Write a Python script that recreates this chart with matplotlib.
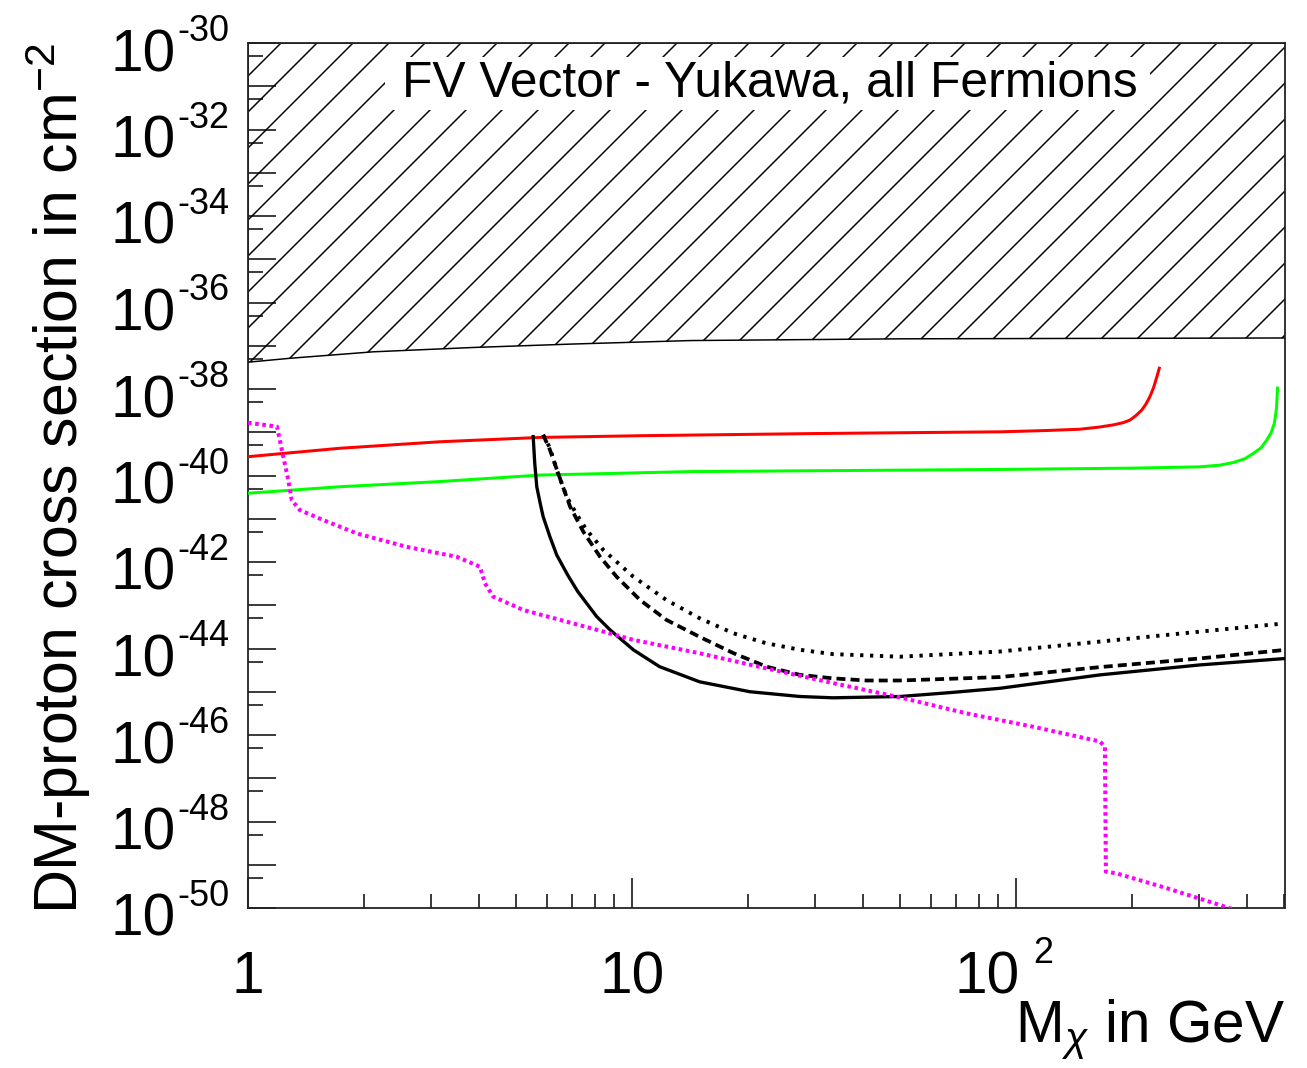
import numpy as np
import matplotlib
matplotlib.use("Agg")
import matplotlib.pyplot as plt
from matplotlib.patches import Rectangle
from matplotlib.transforms import blended_transform_factory, offset_copy

plt.rcParams['font.family'] = ['Liberation Sans', 'DejaVu Sans']
plt.rcParams['mathtext.fontset'] = 'custom'
plt.rcParams['mathtext.rm'] = 'Liberation Sans'
plt.rcParams['mathtext.it'] = 'Liberation Sans:italic'
plt.rcParams['hatch.linewidth'] = 0.5
plt.rcParams['lines.scale_dashes'] = False

DPI = 216  # 1 pt = 3 px

# ---- data (mass in GeV, log10 of cross section in cm^2) ----
excl_m = [1.0, 1.285, 2.12, 3.86, 7.03, 14.2, 49.9, 510]
excl_logs = [-37.38, -37.29, -37.14, -37.04, -36.96, -36.88, -36.84, -36.82]

red_m = [1.0, 1.736, 3.16, 5.76, 10.5, 30, 90.9, 120, 146.8, 165, 179.2, 190, 198, 205,
         212.5, 218, 223.2, 228, 231.5, 234, 236.2]
red_logs = [-39.565, -39.37, -39.22, -39.12, -39.08, -39.03, -38.99, -38.96, -38.93,
            -38.88, -38.83, -38.78, -38.72, -38.62, -38.49, -38.35, -38.18, -37.98,
            -37.79, -37.65, -37.52]

green_m = [1.0, 1.736, 3.16, 5.76, 14.2, 90.9, 200, 301, 340, 368, 395, 415, 435, 450,
           462, 471, 477, 480]
green_logs = [-40.41, -40.26, -40.14, -39.99, -39.91, -39.86, -39.83, -39.80, -39.76,
              -39.70, -39.61, -39.49, -39.36, -39.18, -39.01, -38.79, -38.45, -37.98]

solid_m = [5.53, 5.58, 5.65, 5.76, 5.87, 6.11, 6.37, 6.80, 7.22, 8.09, 8.77, 10.08,
           11.8, 15.0, 20.3, 27.4, 33.4, 49.9, 67.3, 90.9, 165.5, 301, 505]
solid_logs = [-39.10, -39.70, -40.26, -40.62, -40.95, -41.41, -41.84, -42.30, -42.68,
              -43.26, -43.57, -44.03, -44.42, -44.77, -45.00, -45.11, -45.14, -45.11,
              -45.02, -44.92, -44.61, -44.38, -44.23]

dashed_m = [5.87, 6.11, 6.56, 6.90, 7.47, 8.26, 9.12, 10.5, 12.3, 15.0, 18.4, 22.4,
            27.4, 33.4, 40.8, 49.9, 90.9, 165.5, 301, 505]
dashed_logs = [-39.06, -39.40, -40.18, -40.72, -41.30, -41.88, -42.34, -42.88, -43.34,
               -43.73, -44.11, -44.42, -44.61, -44.69, -44.74, -44.74, -44.66, -44.43,
               -44.23, -44.03]

dotted_m = [5.87, 6.11, 6.37, 6.76, 7.20, 7.62, 8.42, 10.08, 12.3, 15.0, 18.4, 22.4,
            27.4, 33.4, 49.9, 67.3, 90.9, 165.5, 301, 487]
dotted_logs = [-39.06, -39.36, -39.87, -40.49, -40.92, -41.26, -41.72, -42.34, -42.88,
               -43.30, -43.65, -43.88, -44.03, -44.13, -44.19, -44.13, -44.07, -43.84,
               -43.61, -43.43]

magenta_m = [1.0, 1.19, 1.236, 1.273, 1.30, 1.365, 1.57, 1.92, 2.59, 3.50, 4.02, 4.14,
             4.35, 5.21, 7.03, 10.08, 15.0, 22.4, 33.4, 49.9, 74.4, 111, 165.5, 170.5,
             171.5, 182.9, 246.7, 368]
magenta_logs = [-38.78, -38.87, -39.57, -40.10, -40.57, -40.80, -41.03, -41.34, -41.65,
                -41.88, -42.11, -42.49, -42.80, -43.11, -43.42, -43.80, -44.11, -44.46,
                -44.80, -45.13, -45.50, -45.81, -46.15, -46.27, -49.16, -49.20, -49.54,
                -50.03]

y_major = [10.0 ** k for k in range(-50, -29)]
y_minor = [5 * 10.0 ** k for k in range(-51, -30)]
y_label_exps = [-30, -32, -34, -36, -38, -40, -42, -44, -46, -48, -50]

x_major = [1, 10, 100]
x_minor = [2, 3, 4, 5, 6, 7, 8, 9, 20, 30, 40, 50, 60, 70, 80, 90, 200, 300, 400, 500]
x_label_base = ["1", "10", "10"]
x_label_exp = ["", "", "2"]

fig = plt.figure(figsize=(1307 / DPI, 1068 / DPI), dpi=DPI)
ax = fig.add_axes([248 / 1307, 1 - 908 / 1068, 1037 / 1307, 865 / 1068])
ax.set_xscale('log')
ax.set_yscale('log')
ax.set_xlim(1, 502)
ax.set_ylim(1e-50, 1e-30)

# excluded region
ax.fill_between(excl_m, 10.0 ** np.array(excl_logs), 1e-30, facecolor='none',
                edgecolor='black', hatch='//', linewidth=0.5, zorder=1)

ax.plot(red_m, 10.0 ** np.array(red_logs), color='#ff0000', lw=1.0, zorder=3)
ax.plot(green_m, 10.0 ** np.array(green_logs), color='#00ff00', lw=1.0, zorder=3)
ax.plot(solid_m, 10.0 ** np.array(solid_logs), color='black', lw=1.1, zorder=3)
ax.plot(dashed_m, 10.0 ** np.array(dashed_logs), color='black', lw=1.25,
        linestyle=(0, (3.0, 1.7)), zorder=3)
ax.plot(dotted_m, 10.0 ** np.array(dotted_logs), color='black', lw=1.3,
        linestyle=(0, (1.1, 2.2)), zorder=3)
ax.plot(magenta_m, 10.0 ** np.array(magenta_logs), color='#ff00ff', lw=1.35,
        linestyle=(0, (1.2, 1.2)), zorder=3)

# ticks
ax.yaxis.set_major_locator(matplotlib.ticker.FixedLocator(y_major))
ax.yaxis.set_minor_locator(matplotlib.ticker.FixedLocator(y_minor))
ax.xaxis.set_major_locator(matplotlib.ticker.FixedLocator(x_major))
ax.xaxis.set_minor_locator(matplotlib.ticker.FixedLocator(x_minor))
ax.tick_params(which='both', direction='in', top=False, right=False,
               labelleft=False, labelbottom=False, width=0.5, color='black')
ax.tick_params(axis='y', which='major', length=9.3)
ax.tick_params(axis='y', which='minor', length=5.0)
ax.tick_params(axis='x', which='major', length=10.0)
ax.tick_params(axis='x', which='minor', length=4.7)
for sp in ax.spines.values():
    sp.set_linewidth(0.6)
    sp.set_color('#222222')

# y tick labels 10^k
ytr = blended_transform_factory(ax.transAxes, ax.transData)
for e in y_label_exps:
    ax.text(0, 10.0 ** e, "10", transform=offset_copy(ytr, fig=fig, x=-72, y=-28, units='dots'),
            ha='right', va='baseline', fontsize=19.5)
    ax.text(0, 10.0 ** e, "%d" % e, transform=offset_copy(ytr, fig=fig, x=-71, y=2, units='dots'),
            ha='left', va='baseline', fontsize=12.0)

# x tick labels
xtr = blended_transform_factory(ax.transData, ax.transAxes)
for v, b, ex in zip(x_major, x_label_base, x_label_exp):
    if ex:
        ax.text(v, 0, b, transform=offset_copy(xtr, fig=fig, x=4, y=-85, units='dots'),
                ha='right', va='baseline', fontsize=19.5)
        ax.text(v, 0, ex, transform=offset_copy(xtr, fig=fig, x=17, y=-55, units='dots'),
                ha='left', va='baseline', fontsize=12.0)
    else:
        ax.text(v, 0, b, transform=offset_copy(xtr, fig=fig, x=0, y=-85, units='dots'),
                ha='center', va='baseline', fontsize=19.5)

# axis titles
ax.text(-0.1639, 1.0, "DM-proton cross section in cm$^{-2}$", transform=ax.transAxes,
        rotation=90, rotation_mode='anchor', ha='right', va='baseline', fontsize=20.3)
ax.text(1.0, -(1042 - 908) / 865, r"M$_{\chi}$ in GeV", transform=ax.transAxes,
        ha='right', va='baseline', fontsize=19.5)

# title box
ax.add_patch(Rectangle((0.132, 0.9225), 0.738, 0.0615, transform=ax.transAxes,
                       facecolor='white', edgecolor='none', zorder=4))
ax.text(0.503, 0.9376, "FV Vector - Yukawa, all Fermions", transform=ax.transAxes,
        ha='center', va='baseline', fontsize=16.6, zorder=5)

fig.savefig("out.png", dpi=DPI)
